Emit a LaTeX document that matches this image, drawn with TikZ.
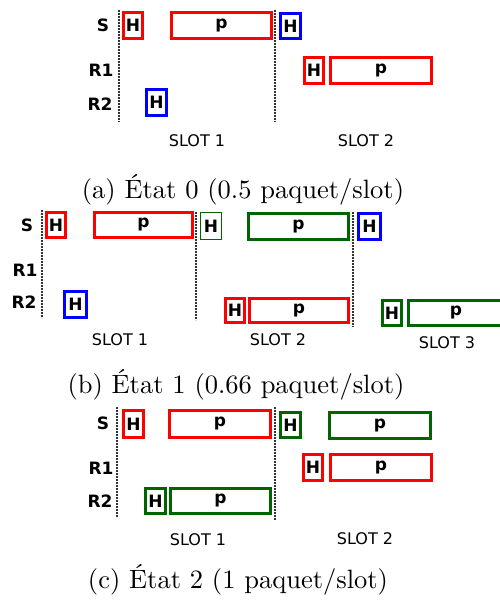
\documentclass[tikz,border=0pt]{standalone}
\usepackage{fontspec}
\newfontfamily\dvs{DejaVu Sans}
\newfontfamily\capfont{lmroman10-regular}[Extension=.otf]
\definecolor{pred}{RGB}{255,0,0}
\definecolor{pblue}{RGB}{0,0,255}
\definecolor{pgreen}{RGB}{0,100,0}
\newcommand\bx[7]{%
  \pgfmathsetmacro\bxw{#5-#3-2.7}\pgfmathsetmacro\bxh{#6-#4-2.7}%
  \node[boxst, #2, minimum width=\bxw pt, minimum height=\bxh pt] (#1) at ({(#3+#5)/2},{(#4+#6)/2}) {#7};}
\begin{document}
\begin{tikzpicture}[x=1pt,y=-1pt,
  boxst/.style={draw, line width=2.7pt, inner sep=0pt, font=\dvs\bfseries\fontsize{17}{17}\selectfont},
  rowlbl/.style={font=\dvs\bfseries\fontsize{17}{17}\selectfont, inner sep=0pt},
  slotlbl/.style={font=\dvs\fontsize{16}{16}\selectfont, inner sep=0pt},
  capt/.style={font=\capfont\fontsize{26.5}{30}\selectfont, inner sep=0pt},
  sep/.style={line width=1.2pt, black!80, dash pattern=on 2pt off 1pt}]
\useasboundingbox (0,0) rectangle (499,603);
% ---------- (a)
\node[rowlbl] (aS) at (103,25) {S};
\node[rowlbl] (aR1) at (101,70) {R1};
\node[rowlbl] (aR2) at (100,104) {R2};
\coordinate (a1t) at (119,10); \coordinate (a1b) at (119,122);
\coordinate (a2t) at (275,10); \coordinate (a2b) at (275,122);
\draw[sep] (a1t) -- (a1b);
\draw[sep] (a2t) -- (a2b);
\bx{aSH}{draw=pred}{122}{11}{144}{40}{H}
\bx{aSp}{draw=pred}{170}{11}{273}{40}{p}
\bx{aSH2}{draw=pblue}{279}{12}{302}{40}{H}
\bx{aR1H}{draw=pred}{303}{56}{325}{85}{H}
\bx{aR1p}{draw=pred}{329}{56}{433}{85}{p}
\bx{aR2H}{draw=pblue}{145}{88}{168}{117}{H}
\node[slotlbl] (aslot1) at (197,141) {SLOT 1};
\node[slotlbl] (aslot2) at (366,141) {SLOT 2};
\node[capt] (capa) at (243,190) {(a) État 0 (0.5 paquet/slot)};
% ---------- (b)
\node[rowlbl] (bS) at (27,225) {S};
\node[rowlbl] (bR1) at (25,270) {R1};
\node[rowlbl] (bR2) at (24,302) {R2};
\coordinate (b1t) at (42,210); \coordinate (b1b) at (42,318);
\coordinate (b2t) at (196,212); \coordinate (b2b) at (196,320);
\coordinate (b3t) at (353,212); \coordinate (b3b) at (353,327);
\draw[sep] (b1t) -- (b1b);
\draw[sep] (b2t) -- (b2b);
\draw[sep] (b3t) -- (b3b);
\bx{bSH}{draw=pred}{45}{211}{67}{239}{H}
\bx{bSp}{draw=pred}{93}{211}{194}{239}{p}
\node[boxst, draw=pgreen, line width=1pt, minimum width=21pt, minimum height=27pt] (bSH2) at (211,226) {H};
\bx{bSp2}{draw=pgreen}{247}{212}{350}{241}{p}
\bx{bSH3}{draw=pblue}{357}{212}{382}{241}{H}
\bx{bR2H}{draw=pblue}{63}{290}{88}{319}{H}
\bx{bR2H2}{draw=pred}{224}{297}{246}{324}{H}
\bx{bR2p}{draw=pred}{248}{297}{350}{324}{p}
\bx{bR2H3}{draw=pgreen}{381}{299}{403}{327}{H}
\bx{bR2p3}{draw=pgreen}{407}{299}{505}{327}{p}
\node[slotlbl] (bslot1) at (120,340) {SLOT 1};
\node[slotlbl] (bslot2) at (278,340) {SLOT 2};
\node[slotlbl] (bslot3) at (447,343) {SLOT 3};
\node[capt] (capb) at (236,385) {(b) État 1 (0.66 paquet/slot)};
% ---------- (c)
\node[rowlbl] (cS) at (103,423) {S};
\node[rowlbl] (cR1) at (101,468) {R1};
\node[rowlbl] (cR2) at (100,501) {R2};
\coordinate (c1t) at (117,407); \coordinate (c1b) at (117,518);
\coordinate (c2t) at (275,407); \coordinate (c2b) at (275,520);
\draw[sep] (c1t) -- (c1b);
\draw[sep] (c2t) -- (c2b);
\bx{cSH}{draw=pred}{122}{409}{145}{439}{H}
\bx{cSp}{draw=pred}{168}{409}{272}{439}{p}
\bx{cSH2}{draw=pgreen}{279}{411}{302}{439}{H}
\bx{cSp2}{draw=pgreen}{328}{411}{432}{440}{p}
\bx{cR1H}{draw=pred}{302}{453}{324}{482}{H}
\bx{cR1p}{draw=pred}{329}{453}{433}{482}{p}
\bx{cR2H}{draw=pgreen}{144}{487}{167}{515}{H}
\bx{cR2p}{draw=pgreen}{169}{487}{272}{515}{p}
\node[slotlbl] (cslot1) at (198,540) {SLOT 1};
\node[slotlbl] (cslot2) at (365,539) {SLOT 2};
\node[capt] (capc) at (238,580) {(c) État 2 (1 paquet/slot)};
\end{tikzpicture}
\end{document}
